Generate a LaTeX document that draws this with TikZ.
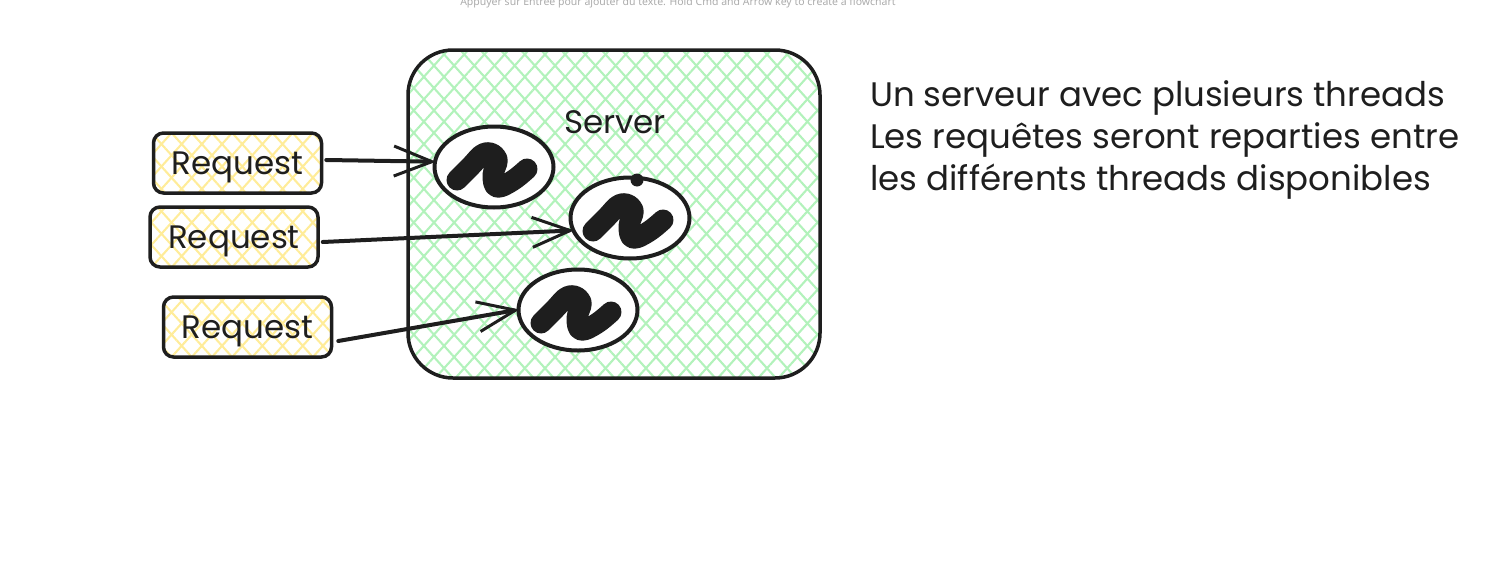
\documentclass[tikz,border=0pt]{standalone}
\usepackage{fontspec}
\setmainfont{Poppins}
\newfontfamily\hintfont{Noto Sans}
\usetikzlibrary{arrows.meta,patterns.meta,shapes.geometric}
\definecolor{inkblack}{HTML}{1E1E1E}
\definecolor{hatchgreen}{HTML}{B2F2BB}
\definecolor{hatchyellow}{HTML}{FFEC99}
\definecolor{hintgray}{HTML}{ABABAB}
\tikzset{
  hatchbox/.style={draw=inkblack,line width=3.5pt,rounded corners=#1,inner sep=0pt,text=inkblack},
  hatched/.style={
    preaction={pattern={Lines[angle=48,distance=15pt,line width=2.1pt]},pattern color=#1},
    preaction={pattern={Lines[angle=-48,distance=15pt,line width=2.1pt]},pattern color=#1}},
  request/.style={hatchbox=10pt,hatched=hatchyellow,minimum width=168pt,minimum height=60pt,text height=26pt,text depth=3pt,font=\fontsize{32.5}{32.5}\selectfont},
  thread/.style={ellipse,draw=inkblack,line width=4pt,fill=white,inner sep=0pt,minimum width=119pt,minimum height=81pt},
  squiggle/.style={draw=inkblack,line width=21pt,line cap=round,line join=round},
  arrow/.style={draw=inkblack,line width=4pt,line cap=round,shorten >=-3pt,-{Straight Barb[length=38pt,width=30pt,line width=3pt]}}
}
\begin{document}
\begin{tikzpicture}[x=1pt,y=-1pt]
    \useasboundingbox (0,0) rectangle (1504,570);
    \node at (678,3) [font=\fontsize{10.5}{10.5}\hintfont,text=hintgray] (hint) {Appuyer sur Entrée pour ajouter du texte. Hold Cmd and Arrow key to create a flowchart};
    \node at (614,214) [hatchbox=45pt,hatched=hatchgreen,minimum width=412pt,minimum height=328pt] (server) {};
    \node at (615,122) [font=\fontsize{32.5}{32.5}\selectfont,text=inkblack] (serverlabel) {Server};
    % requests
    \node at (237.5,163) [request] (req1) {Request};
    \node at (234,237) [request] (req2) {Request};
    \node at (247.5,327) [request] (req3) {Request};
    % threads
    \node at (494,167) [thread] (th1) {};
    \node at (630,218) [thread] (th2) {};
    \node at (578,310) [thread] (th3) {};
    \foreach \cx/\cy in {494/167,630/218,578/310}
        \draw[squiggle] plot[smooth,tension=0.7] coordinates {(\cx-37,\cy+13) (\cx-24,\cy) (\cx-9,\cy-14) (\cx+3,\cy-8) (\cx-1,\cy+8) (\cx+3,\cy+20) (\cx+18,\cy+14) (\cx+33,\cy+2)};
    \node at (637,180) [circle,fill=inkblack,minimum size=13pt,inner sep=0pt] (th2dot) {};
    % arrows
    \draw[arrow] ([shift={(3,-3)}]req1.east) -- (th1.175);
    \draw[arrow] ([shift={(3,5)}]req2.east) -- (th2.192);
    \draw[arrow] ([shift={(5,14)}]req3.east) -- (th3.180);
    % text
    \node at (870,80) [anchor=north west,align=left,inner sep=0pt,text=inkblack,font=\fontsize{34}{42}\selectfont] (notes) {Un serveur avec plusieurs threads\\Les requêtes seront reparties entre\\les différents threads disponibles};
\end{tikzpicture}
\end{document}
